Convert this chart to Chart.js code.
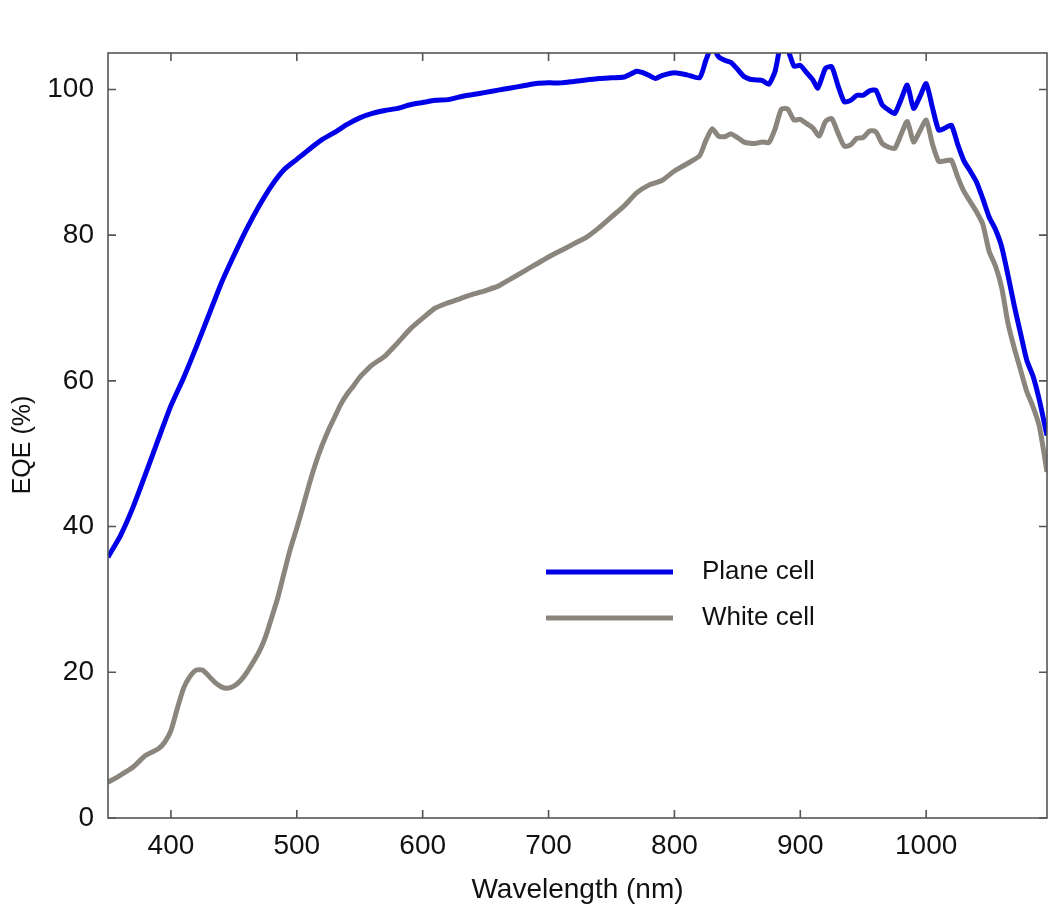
<!DOCTYPE html>
<html lang="en">
<head>
<meta charset="UTF-8">
<title>EQE</title>
<script src="https://cdn.jsdelivr.net/npm/chart.js"></script>
<style>
  html, body { margin: 0; padding: 0; background: #fff; }
  .wrap { width: 1048px; height: 907px; }
</style>
</head>
<body>
<div class="wrap"><canvas id="eqeChart"></canvas></div>
<script>
// Plane cell
const planeNm = [350,360,370,380,390,400,410,420,430,440,450,460,470,480,490,500,510,520,530,540,
  550,560,570,580,590,600,610,620,630,640,650,660,670,680,690,700,710,720,730,740,750,760,770,775,780,785,790,800,810,820,
  825,830,835,840,845,850,855,860,865,870,875,880,885,890,895,900,905,910,914,920,925,930,935,940,945,950,955,960,965,970,
  975,980,985,990,995,1000,1005,1010,1015,1020,1025,1030,1035,1040,1045,1050,1055,1060,1065,1070,1075,1080,1085,1090,1096];
const planeEqe = [35.8,38.8,42.7,47.3,52.0,56.6,60.4,64.6,69.0,73.4,77.2,80.8,84.0,86.8,89.0,90.4,91.8,93.1,94.1,95.2,
  96.1,96.7,97.1,97.4,97.9,98.2,98.5,98.6,99.0,99.3,99.6,99.9,100.2,100.5,100.8,100.9,100.9,101.1,101.3,101.5,101.6,101.7,102.5,102.3,101.9,101.5,101.9,102.3,102.0,101.6,
  104.0,106.0,104.5,104.0,103.7,102.8,101.8,101.4,101.3,101.2,100.7,102.5,106.5,105.5,103.2,103.3,102.3,101.3,100.2,102.9,103.1,100.5,98.3,98.5,99.2,99.2,99.8,99.9,97.9,97.2,
  96.7,98.6,100.6,97.4,99.0,100.8,97.5,94.4,94.7,95.1,92.5,90.2,88.8,87.3,85.0,82.5,80.8,78.4,74.5,70.3,66.5,62.8,60.6,57.3,52.5];

// White cell
const whiteNm = [350,360,370,380,390,395,400,405,410,415,420,425,430,435,440,445,450,455,460,465,470,475,480,485,490,495,
  500,505,510,515,520,525,530,535,540,545,550,555,560,570,580,590,600,610,620,630,640,650,660,670,680,690,700,710,720,730,
  740,750,760,770,780,790,800,810,820,825,830,835,840,845,850,855,860,865,870,875,880,885,890,895,900,905,910,915,920,925,
  930,935,940,945,950,955,960,965,970,975,980,985,990,995,1000,1005,1010,1015,1020,1025,1030,1035,1040,1045,1050,1055,1060,
  1065,1070,1075,1080,1085,1090,1096];
const whiteEqe = [4.9,5.9,7.0,8.6,9.5,10.4,12.0,15.0,17.8,19.4,20.3,20.3,19.5,18.6,18.0,17.8,18.1,18.8,19.9,21.3,22.8,24.8,27.5,30.3,33.7,37.0,
  39.8,42.8,45.9,48.7,51.1,53.2,55.0,56.8,58.2,59.3,60.5,61.4,62.2,63.4,65.2,67.1,68.6,70.0,70.7,71.3,71.9,72.4,73.0,74.0,75.0,76.0,77.0,77.9,78.8,79.7,
  81.0,82.5,84.0,85.8,86.9,87.5,88.8,89.8,90.9,93.0,94.6,93.6,93.5,93.9,93.4,92.8,92.6,92.6,92.8,92.7,94.6,97.3,97.3,95.8,95.9,95.3,94.7,93.6,95.6,96.0,
  94.0,92.2,92.4,93.3,93.4,94.3,94.2,92.6,92.1,91.9,93.8,95.6,92.8,94.3,95.8,92.5,90.1,90.2,90.3,88.0,86.0,84.6,83.2,81.5,77.8,75.8,72.8,
  67.9,64.5,61.5,58.5,56.4,53.7,47.5];

const xTicks = [400, 500, 600, 700, 800, 900, 1000];
const yTicks = [0, 20, 40, 60, 80, 100];
const seriesLabels = ['Plane cell', 'White cell'];
const seriesColors = ['#0000e8', '#8a867e'];

const FONT = '"Liberation Sans", Arial, Helvetica, sans-serif';

const toPoints = (xs, ys) => xs.map((v, i) => ({ x: v, y: ys[i] }));

// box, inward ticks, legend and y title
const framePlugin = {
  id: 'frame',
  afterDraw(chart) {
    const { ctx, chartArea: a, scales: { x, y } } = chart;
    ctx.save();
    ctx.strokeStyle = '#555';
    ctx.lineWidth = 1.6;
    ctx.strokeRect(a.left, a.top, a.right - a.left, a.bottom - a.top);
    ctx.beginPath();
    xTicks.forEach(v => {
      const px = x.getPixelForValue(v);
      ctx.moveTo(px, a.bottom); ctx.lineTo(px, a.bottom - 8);
      ctx.moveTo(px, a.top); ctx.lineTo(px, a.top + 8);
    });
    yTicks.forEach(v => {
      const py = y.getPixelForValue(v);
      ctx.moveTo(a.left, py); ctx.lineTo(a.left + 8, py);
      ctx.moveTo(a.right, py); ctx.lineTo(a.right - 8, py);
    });
    ctx.stroke();

    // legend
    ctx.font = '26px ' + FONT;
    ctx.textBaseline = 'middle';
    ctx.fillStyle = '#111';
    chart.data.datasets.forEach((ds, i) => {
      const ly = 572 + i * 46;
      ctx.strokeStyle = ds.borderColor;
      ctx.lineWidth = 5;
      ctx.beginPath();
      ctx.moveTo(546, ly); ctx.lineTo(673, ly);
      ctx.stroke();
      ctx.fillText(ds.label, 702, ly);
    });

    // y axis title
    ctx.translate(23, 445);
    ctx.rotate(-Math.PI / 2);
    ctx.textAlign = 'center';
    ctx.font = '25px ' + FONT;
    ctx.fillText('EQE (%)', 0, 0);
    ctx.restore();
  }
};

new Chart(document.getElementById('eqeChart'), {
  type: 'line',
  data: {
    datasets: [
      { label: seriesLabels[0], data: toPoints(planeNm, planeEqe), borderColor: seriesColors[0] },
      { label: seriesLabels[1], data: toPoints(whiteNm, whiteEqe), borderColor: seriesColors[1] }
    ]
  },
  options: {
    responsive: true,
    maintainAspectRatio: false,
    animation: false,
    devicePixelRatio: 1,
    layout: { padding: { top: 53, right: 1, left: 0, bottom: 0 } },
    elements: {
      point: { radius: 0 },
      line: { borderWidth: 5, tension: 0.2, fill: false, borderJoinStyle: 'round' }
    },
    plugins: { legend: { display: false }, tooltip: { enabled: false } },
    scales: {
      x: {
        type: 'linear',
        min: 350,
        max: 1096,
        grid: { display: false, drawTicks: false },
        border: { display: false },
        afterBuildTicks: s => { s.ticks = xTicks.map(v => ({ value: v })); },
        afterFit: s => { s.height = 89; },
        ticks: {
          padding: 11,
          color: '#111',
          font: { family: FONT, size: 28 },
          callback: v => String(v)
        },
        title: {
          display: true,
          text: 'Wavelength (nm)',
          color: '#111',
          padding: { top: 0, bottom: 0 },
          font: { family: FONT, size: 28 }
        }
      },
      y: {
        min: 0,
        max: 105,
        grid: { display: false, drawTicks: false },
        border: { display: false },
        afterBuildTicks: s => { s.ticks = yTicks.map(v => ({ value: v })); },
        afterFit: s => { s.width = 108; },
        ticks: {
          padding: 14,
          color: '#111',
          font: { family: FONT, size: 28 },
          callback: v => String(v)
        }
      }
    }
  },
  plugins: [framePlugin]
});
</script>
</body>
</html>
